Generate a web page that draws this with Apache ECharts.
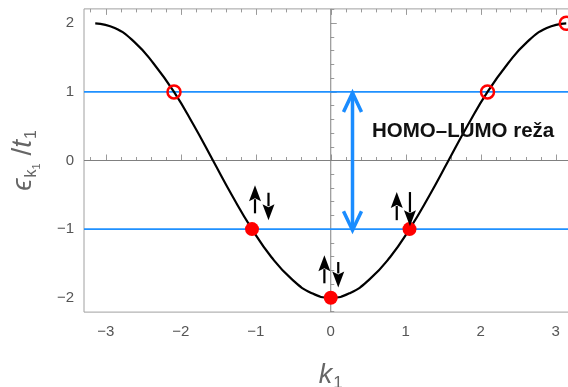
<!DOCTYPE html>
<html>
<head>
<meta charset="utf-8">
<script src="https://cdn.jsdelivr.net/npm/echarts@6/dist/echarts.min.js"></script>
<style>
    html, body { margin: 0; padding: 0; background: #fff; }
    #chart { width: 568px; height: 387px; }
</style>
</head>
<body>
<div id="chart"></div>
<script>
// band curve (k1, eps/t1)
var kValues = [-3.14, -2.88, -2.62, -2.36, -2.09, -1.83, -1.57, -1.31, -1.05, -0.79, -0.52, -0.26, 0,
               0.26, 0.52, 0.79, 1.05, 1.31, 1.57, 1.83, 2.09, 2.36, 2.62, 2.88, 3.14];
var energyValues = [2.00, 1.93, 1.73, 1.41, 1.00, 0.52, 0.00, -0.52, -1.00, -1.41, -1.73, -1.93, -2.00,
                    -1.93, -1.73, -1.41, -1.00, -0.52, 0.00, 0.52, 1.00, 1.41, 1.73, 1.93, 2.00];

// occupied (filled) and empty (open) states
var occupiedK = [-1.05, 0, 1.05];
var occupiedE = [-1, -2, -1];
var emptyK = [-2.09, 2.09, 3.14];
var emptyE = [1, 1, 2];

// HOMO / LUMO levels
var levelValues = [1, -1];

// spin arrows: [k, tail, tip]
var spinUp = [[-1.01, -0.77, -0.36], [-0.085, -1.79, -1.38], [0.88, -0.87, -0.46]];
var spinDown = [[-0.83, -0.47, -0.87], [0.10, -1.48, -1.85], [1.056, -0.46, -0.96]];

// gap arrow [k, top, bottom] and its label [k, eps]
var gapArrow = [[0.29, 1.0, -1.03]];
var gapLabelPos = [[0.55, 0.43]];
var gapLabel = 'HOMO–LUMO reža';

var xTicks = [-3, -2, -1, 0, 1, 2, 3];
var yTicks = [-2, -1, 0, 1, 2];
var xMin = -3.29, xMax = 3.29;
var yMin = -2.21, yMax = 2.21;

var xMinor = [], yMinor = [];
for (var i = -16; i <= 16; i++) { if (i % 5 !== 0) xMinor.push(i / 5); }
for (var j = -11; j <= 11; j++) { if (j % 5 !== 0) yMinor.push(j / 5); }

var myChart = echarts.init(document.getElementById('chart'));

function minusFmt(v) { return v < 0 ? '\u2212' + (-v) : String(v); }

function zip(a, b) {
    return a.map(function (v, i) { return [v, b[i]]; });
}

var tickColor = '#9a9a9a';
var labelColor = '#555';

function xAxisCfg(pos, vals, len, withLabel) {
    return {
        type: 'value', min: xMin, max: xMax, position: pos,
        axisLine: { show: false }, splitLine: { show: false },
        axisTick: { show: true, inside: true, length: len, customValues: vals, lineStyle: { color: tickColor } },
        axisLabel: withLabel ? { customValues: vals, color: labelColor, fontSize: 15, margin: 12, fontFamily: 'Liberation Sans', formatter: minusFmt } : { show: false }
    };
}
function yAxisCfg(pos, vals, len, withLabel) {
    return {
        type: 'value', min: yMin, max: yMax, position: pos,
        axisLine: { show: false }, splitLine: { show: false },
        axisTick: { show: true, inside: true, length: len, customValues: vals, lineStyle: { color: tickColor } },
        axisLabel: withLabel ? { customValues: vals, color: labelColor, fontSize: 15, margin: 10, fontFamily: 'Liberation Sans', formatter: minusFmt } : { show: false }
    };
}

var xAxes = [
    xAxisCfg('bottom', xTicks, 6, true),
    xAxisCfg('bottom', xMinor, 3.5, false),
    xAxisCfg('top', xTicks, 6, false),
    xAxisCfg('top', xMinor, 3.5, false)
];
xAxes[0].name = '{i|k}{s|1}';
xAxes[0].nameLocation = 'middle';
xAxes[0].nameGap = 47;
xAxes[0].nameTextStyle = {
    rich: {
        i: { fontSize: 27, fontStyle: 'italic', color: '#666', fontFamily: 'Liberation Sans' },
        s: { fontSize: 17, color: '#666', fontFamily: 'Liberation Sans', padding: [16, 0, 0, 1] }
    }
};

var yAxes = [
    yAxisCfg('left', yTicks, 6, true),
    yAxisCfg('left', yMinor, 3.5, false)
];
yAxes[0].name = '{i|\u03F5}{s|k}{ss|1}{n| /}{i|t}{s|1}';
yAxes[0].nameLocation = 'middle';
yAxes[0].nameGap = 42;
yAxes[0].nameTextStyle = {
    rich: {
        i: { fontSize: 28, fontStyle: 'italic', color: '#666', fontFamily: 'Liberation Sans' },
        n: { fontSize: 28, color: '#666', fontFamily: 'Liberation Sans' },
        s: { fontSize: 16, color: '#666', fontFamily: 'Liberation Sans', padding: [16, 0, 0, 1] },
        ss: { fontSize: 11, color: '#666', fontFamily: 'Liberation Sans', padding: [26, 0, 0, 0] }
    }
};

function spinArrow(params, api) {
    var p0 = api.coord([api.value(0), api.value(1)]);
    var p1 = api.coord([api.value(0), api.value(2)]);
    var dir = p1[1] < p0[1] ? -1 : 1;
    var headLen = 16, headW = 6;
    var base = p1[1] - dir * headLen;
    return {
        type: 'group',
        children: [
            { type: 'line', shape: { x1: p0[0], y1: p0[1], x2: p0[0], y2: base + dir * 2 }, style: { stroke: '#000', lineWidth: 2.2 } },
            { type: 'polygon', shape: { points: [[p1[0], p1[1]], [p1[0] - headW, base], [p1[0], base + dir * 3], [p1[0] + headW, base]] }, style: { fill: '#000' } }
        ]
    };
}

function gapArrowItem(params, api) {
    var top = api.coord([api.value(0), api.value(1)]);
    var bot = api.coord([api.value(0), api.value(2)]);
    var x = top[0], aw = 9, al = 20;
    var st = { stroke: '#1a8cff', lineWidth: 3.5, fill: null, lineJoin: 'miter' };
    return {
        type: 'group',
        children: [
            { type: 'line', shape: { x1: x, y1: top[1] + 1, x2: x, y2: bot[1] - 1 }, style: st },
            { type: 'polyline', shape: { points: [[x - aw, top[1] + al], [x, top[1] + 1], [x + aw, top[1] + al]] }, style: st },
            { type: 'polyline', shape: { points: [[x - aw, bot[1] - al], [x, bot[1] - 1], [x + aw, bot[1] - al]] }, style: st }
        ]
    };
}

function labelItem(params, api) {
    var p = api.coord([api.value(0), api.value(1)]);
    return {
        type: 'text', x: p[0], y: p[1],
        style: { text: gapLabel, fill: '#111', font: 'bold 20.5px "Liberation Sans"', align: 'left', verticalAlign: 'middle' }
    };
}

var option = {
    animation: false,
    grid: { left: 84, right: -9.5, top: 8.9, bottom: 74.9, show: true, borderColor: '#a0a0a0', borderWidth: 1, outerBoundsMode: 'none', containLabel: false },
    xAxis: xAxes,
    yAxis: yAxes,
    series: [
        {
            type: 'line', z: 1, silent: true, symbol: 'none',
            data: [[xMin, 0], [xMax, 0]],
            lineStyle: { color: '#808080', width: 1 }
        },
        {
            type: 'line', z: 1, silent: true, symbol: 'none',
            data: [[0, yMin], [0, yMax]],
            lineStyle: { color: '#808080', width: 1 }
        },
        {
            type: 'line', z: 2, silent: true, symbol: 'none',
            data: [[xMin, levelValues[0]], [xMax, levelValues[0]]],
            lineStyle: { color: '#1f90ff', width: 1.6 }
        },
        {
            type: 'line', z: 2, silent: true, symbol: 'none',
            data: [[xMin, levelValues[1]], [xMax, levelValues[1]]],
            lineStyle: { color: '#1f90ff', width: 1.6 }
        },
        {
            type: 'line', z: 3, silent: true, symbol: 'none', smooth: 0.5,
            data: zip(kValues, energyValues),
            lineStyle: { color: '#000', width: 2.2 }
        },
        {
            type: 'scatter', z: 4, silent: true, symbolSize: 14,
            data: zip(occupiedK, occupiedE),
            itemStyle: { color: '#ff0000', opacity: 1 }
        },
        {
            type: 'scatter', z: 4, silent: true, symbolSize: 13,
            data: zip(emptyK, emptyE),
            itemStyle: { color: 'rgba(0,0,0,0)', borderColor: '#ff0000', borderWidth: 2.5, opacity: 1 }
        },
        {
            type: 'custom', z: 5, silent: true, clip: false,
            renderItem: spinArrow, encode: { x: 0, y: [1, 2] },
            data: spinUp.concat(spinDown)
        },
        {
            type: 'custom', z: 5, silent: true,
            renderItem: gapArrowItem, encode: { x: 0, y: [1, 2] },
            data: gapArrow
        },
        {
            type: 'custom', z: 6, silent: true,
            renderItem: labelItem, encode: { x: 0, y: 1 },
            data: gapLabelPos
        }
    ]
};

myChart.setOption(option);
window.addEventListener('resize', function () { myChart.resize(); });
</script>
</body>
</html>
